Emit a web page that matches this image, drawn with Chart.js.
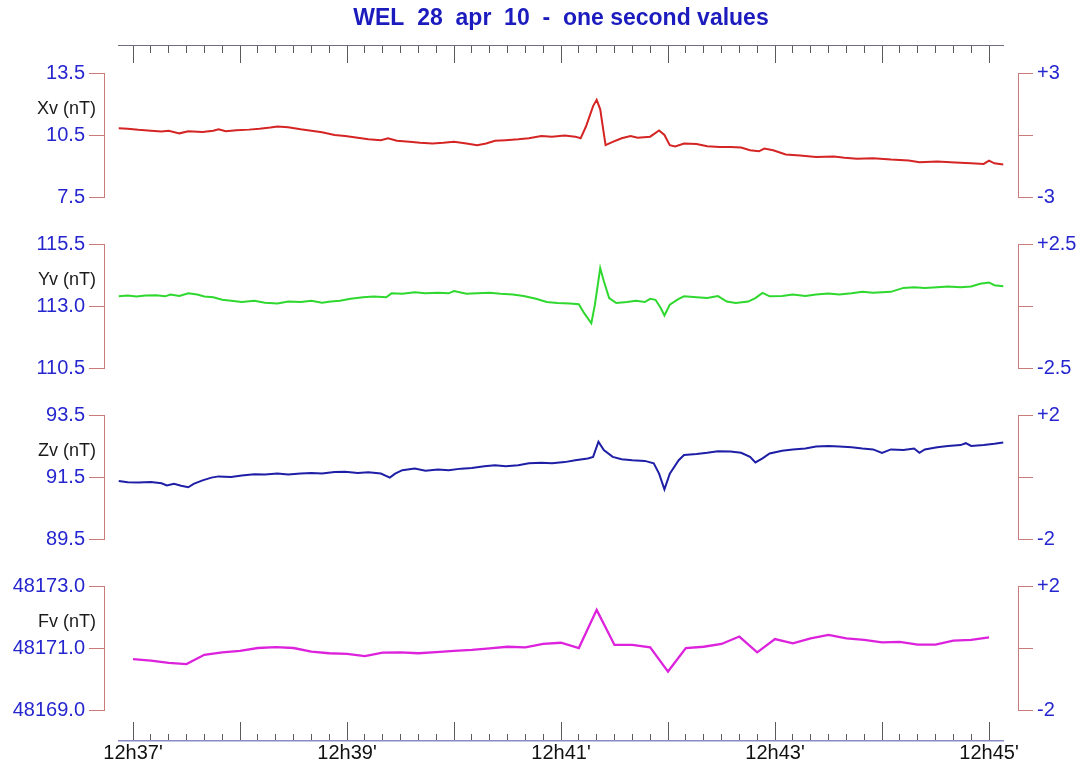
<!DOCTYPE html>
<html><head><meta charset="utf-8">
<script src="https://cdn.jsdelivr.net/npm/chart.js@4.4.1/dist/chart.umd.min.js"></script>
<style>
html,body{margin:0;padding:0;background:#fff;width:1080px;height:767px;overflow:hidden;position:relative}
canvas{position:absolute;left:0}
.plab{position:absolute;width:96px;left:0;text-align:right;font-family:'Liberation Sans',Arial,sans-serif;font-size:18px;line-height:20px;color:#1a1a1a;white-space:nowrap}
</style></head><body>
<script>
// ---- data (seconds after 12h37'00", values in nT) ----
const titleText = "WEL  28  apr  10  -  one second values";
const panelLabels = ["Xv (nT)", "Yv (nT)", "Zv (nT)", "Fv (nT)"];
const timeLabels = ["12h37'", "12h39'", "12h41'", "12h43'", "12h45'"];

const xvTimes = [-8,-3,3,10,16,20,26,31,39,45,48,52,58,65,71,77,81,87,94,100,106,113,119,126,132,139,143,148,155,161,168,174,180,187,193,198,203,209,216,222,229,235,242,248,251,254,258,260,262,264,265,269,274,279,283,290,295,298,301,304,309,316,322,329,335,341,346,351,354,359,366,374,383,393,399,406,415,425,435,441,451,461,470,477,480,483,488];
const xvValues = [10.83,10.80,10.75,10.71,10.67,10.71,10.58,10.68,10.65,10.71,10.78,10.68,10.73,10.76,10.80,10.86,10.91,10.88,10.78,10.71,10.63,10.50,10.45,10.37,10.29,10.25,10.34,10.22,10.17,10.12,10.09,10.12,10.17,10.09,10.01,10.09,10.22,10.25,10.29,10.34,10.45,10.42,10.48,10.42,10.34,10.91,11.90,12.20,11.74,10.58,10.01,10.17,10.34,10.45,10.37,10.42,10.72,10.50,10.01,9.95,10.09,10.06,9.96,9.92,9.92,9.89,9.76,9.71,9.84,9.76,9.56,9.51,9.43,9.46,9.40,9.35,9.38,9.31,9.27,9.18,9.22,9.17,9.13,9.10,9.26,9.13,9.07];

const yvTimes = [-8,-3,2,7,13,18,21,26,31,36,40,45,50,55,61,68,74,81,87,94,100,106,111,116,122,129,135,142,145,151,158,164,171,177,180,187,193,200,206,213,219,226,232,238,245,250,253,257,259,262,264,267,271,277,282,287,290,293,296,298,301,306,309,316,322,328,333,338,345,349,353,357,364,370,377,383,390,396,403,409,415,425,432,438,444,451,457,464,470,475,480,483,488];
const yvValues = [113.39,113.42,113.38,113.42,113.43,113.39,113.46,113.40,113.51,113.46,113.38,113.35,113.25,113.21,113.16,113.21,113.13,113.10,113.18,113.16,113.21,113.13,113.18,113.21,113.29,113.35,113.38,113.35,113.51,113.49,113.55,113.51,113.53,113.51,113.60,113.49,113.51,113.53,113.49,113.46,113.40,113.29,113.16,113.12,113.10,113.07,112.71,112.30,113.05,114.53,114.01,113.32,113.12,113.16,113.21,113.16,113.29,113.25,112.91,112.62,113.05,113.29,113.39,113.35,113.32,113.40,113.18,113.12,113.18,113.32,113.53,113.39,113.40,113.46,113.40,113.46,113.50,113.46,113.51,113.57,113.53,113.57,113.73,113.76,113.73,113.76,113.79,113.76,113.79,113.90,113.95,113.84,113.80];

const zvTimes = [-8,-3,3,10,16,19,23,27,31,34,39,44,48,55,61,68,74,81,87,94,100,106,113,119,126,132,139,144,147,151,158,164,171,177,184,190,197,203,209,216,222,229,235,242,248,255,258,261,264,269,274,280,287,292,295,298,301,306,309,316,322,328,335,341,346,349,353,357,364,370,377,383,390,396,403,409,415,420,425,432,438,441,444,451,457,464,467,470,477,483,488];
const zvValues = [91.37,91.33,91.32,91.34,91.30,91.23,91.28,91.22,91.17,91.28,91.39,91.48,91.52,91.50,91.55,91.59,91.58,91.61,91.58,91.61,91.63,91.61,91.66,91.67,91.63,91.65,91.61,91.48,91.61,91.72,91.77,91.70,91.74,91.72,91.77,91.79,91.85,91.88,91.85,91.88,91.94,91.96,91.94,91.98,92.04,92.10,92.15,92.64,92.37,92.15,92.07,92.04,92.02,91.94,91.61,91.10,91.61,92.04,92.21,92.24,92.28,92.33,92.32,92.28,92.15,91.97,92.10,92.26,92.35,92.39,92.42,92.48,92.50,92.48,92.46,92.42,92.39,92.28,92.39,92.37,92.42,92.28,92.39,92.46,92.50,92.53,92.59,92.50,92.53,92.57,92.61];

const fvTimes = [0,10,20,30,40,50,60,70,80,90,100,110,120,130,140,150,160,170,180,190,200,210,220,230,240,250,260,270,280,290,300,310,320,330,340,350,360,370,380,390,400,410,420,430,440,450,460,470,480];
const fvValues = [48170.64,48170.59,48170.52,48170.48,48170.78,48170.86,48170.91,48171.00,48171.03,48171.00,48170.88,48170.83,48170.81,48170.74,48170.85,48170.86,48170.83,48170.87,48170.91,48170.94,48170.99,48171.04,48171.02,48171.13,48171.17,48171.00,48172.23,48171.10,48171.10,48171.02,48170.24,48171.00,48171.04,48171.13,48171.37,48170.86,48171.29,48171.15,48171.31,48171.42,48171.31,48171.26,48171.18,48171.20,48171.11,48171.11,48171.24,48171.26,48171.34];

const leftRanges = [[7.5, 13.5], [110.5, 115.5], [89.5, 93.5], [48169.0, 48173.0]];
const rightRanges = [[-3, 3], [-2.5, 2.5], [-2, 2], [-2, 2]];
const majorTicks = [0, 60, 120, 180, 240, 300, 360, 420, 480];
const labelTicks = [0, 120, 240, 360, 480];

// ---- layout / style ----
const FONT = "'Liberation Sans', Arial, Helvetica, sans-serif";
const AXIS_COL = '#c97b7b';
const LABEL_COL = '#2626cf';
const TITLE_COL = '#1c1cbe';
const PX_PER_S = 107 / 60, X0 = 133;      // 12h37' at pixel 133
const PANEL_L = 104, PANEL_R = 1018;
const AX_MIN = -8, AX_MAX = 488;
const series = [
  {t: xvTimes, v: xvValues, color: '#d42424', top: 73, bottom: 197},
  {t: yvTimes, v: yvValues, color: '#2ed82e', top: 244, bottom: 368},
  {t: zvTimes, v: zvValues, color: '#1e1ea6', top: 415, bottom: 539},
  {t: fvTimes, v: fvValues, color: '#dc22dc', top: 586, bottom: 710}
];

function addCanvas(top, h) {
  const c = document.createElement('canvas');
  c.width = 1080; c.height = h;
  c.style.top = top + 'px'; c.style.width = '1080px'; c.style.height = h + 'px';
  document.body.appendChild(c);
  return c;
}
const base = {responsive: false, animation: false, events: [],
  plugins: {legend: {display: false}, tooltip: {enabled: false}}};
const pxToT = p => (p - X0) / PX_PER_S;

// ---- panels ----
series.forEach((s, i) => {
  const pad = 20;
  const c = addCanvas(s.top - pad, s.bottom - s.top + 2 * pad);
  const [lmin, lmax] = leftRanges[i];
  const [rmin, rmax] = rightRanges[i];
  new Chart(c, {
    type: 'line',
    data: {datasets: [{data: s.t.map((t, k) => ({x: t, y: s.v[k]})), borderColor: s.color,
      borderWidth: i === 3 ? 2.3 : 2, pointRadius: 0, tension: 0, fill: false}]},
    options: Object.assign({}, base, {
      layout: {padding: {top: pad, bottom: pad, left: 0, right: 0}},
      scales: {
        x: {type: 'linear', display: false, min: pxToT(PANEL_L), max: pxToT(PANEL_R)},
        y: {position: 'left', min: lmin, max: lmax,
          afterFit: sc => { sc.width = PANEL_L; },
          border: {display: true, color: AXIS_COL, width: 1},
          grid: {drawOnChartArea: false, drawTicks: true, tickLength: 15, color: AXIS_COL, tickColor: AXIS_COL},
          ticks: {count: 3, color: LABEL_COL, padding: 4, font: {family: FONT, size: 20},
            callback: v => Number(v).toFixed(1)}},
        y2: {position: 'right', min: rmin, max: rmax,
          afterFit: sc => { sc.width = 1080 - PANEL_R; },
          border: {display: true, color: AXIS_COL, width: 1},
          grid: {drawOnChartArea: false, drawTicks: true, tickLength: 15, color: AXIS_COL, tickColor: AXIS_COL},
          ticks: {count: 3, color: LABEL_COL, padding: 4, font: {family: FONT, size: 20},
            callback: v => v > 0 ? '+' + v : (v < 0 ? String(v) : '')}}
      }
    })
  });
  const d = document.createElement('div');
  d.className = 'plab';
  d.textContent = panelLabels[i];
  const mid = (s.top + (s.top + s.bottom) / 2) / 2 + 4;
  d.style.top = (mid - 10) + 'px';
  document.body.appendChild(d);
});

const minorTicks = [];
for (let v = 0; v <= 480; v += 10) minorTicks.push(v);
const setTicks = arr => sc => { sc.ticks = arr.map(v => ({value: v})); };
const axPad = {left: X0 + AX_MIN * PX_PER_S, right: 1080 - (X0 + AX_MAX * PX_PER_S)};

// ---- top: title + upper time axis ----
{
  const c = addCanvas(0, 63);
  new Chart(c, {
    type: 'line', data: {datasets: []},
    options: Object.assign({}, base, {
      layout: {padding: {top: 0, bottom: 0, left: axPad.left, right: axPad.right}},
      plugins: {legend: {display: false}, tooltip: {enabled: false},
        title: {display: true, text: titleText, color: TITLE_COL, padding: {top: 5, bottom: 2},
          font: {family: FONT, size: 23, weight: 'bold'}}},
      scales: {
        y: {display: false},
        x: {type: 'linear', position: 'bottom', weight: 0, min: AX_MIN, max: AX_MAX, afterBuildTicks: setTicks(minorTicks),
          border: {display: true, color: '#6e6e80', width: 1},
          grid: {drawOnChartArea: false, tickLength: 8, tickColor: '#5a5a5a'}, ticks: {display: false}},
        x2: {type: 'linear', position: 'bottom', weight: 1, min: AX_MIN, max: AX_MAX, afterBuildTicks: setTicks(majorTicks),
          border: {display: false},
          grid: {drawOnChartArea: false, tickLength: 10, tickColor: '#5a5a5a'}, ticks: {display: false}}
      }
    })
  });
}

// ---- bottom: lower time axis with labels ----
{
  const c = addCanvas(712, 55);
  new Chart(c, {
    type: 'line', data: {datasets: []},
    options: Object.assign({}, base, {
      layout: {padding: {top: 10, bottom: 5, left: axPad.left, right: axPad.right}},
      scales: {
        y: {display: false},
        x: {type: 'linear', position: 'top', weight: 0, min: AX_MIN, max: AX_MAX, afterBuildTicks: setTicks(minorTicks),
          border: {display: true, color: '#8a8ac8', width: 1.5},
          grid: {drawOnChartArea: false, tickLength: 7, tickColor: '#5a5a5a'}, ticks: {display: false}},
        x2: {type: 'linear', position: 'top', weight: 1, min: AX_MIN, max: AX_MAX, afterBuildTicks: setTicks(majorTicks),
          border: {display: false},
          grid: {drawOnChartArea: false, tickLength: 12, tickColor: '#5a5a5a'}, ticks: {display: false}},
        x3: {type: 'linear', position: 'bottom', min: AX_MIN, max: AX_MAX, afterBuildTicks: setTicks(labelTicks),
          border: {display: false},
          grid: {display: false, drawOnChartArea: false, drawTicks: false},
          ticks: {display: true, autoSkip: false, maxRotation: 0, padding: -1, color: '#111111',
            font: {family: FONT, size: 20, lineHeight: 1},
            callback: (v) => timeLabels[labelTicks.indexOf(Math.round(v))]}}
      }
    })
  });
}
</script>
</body></html>
